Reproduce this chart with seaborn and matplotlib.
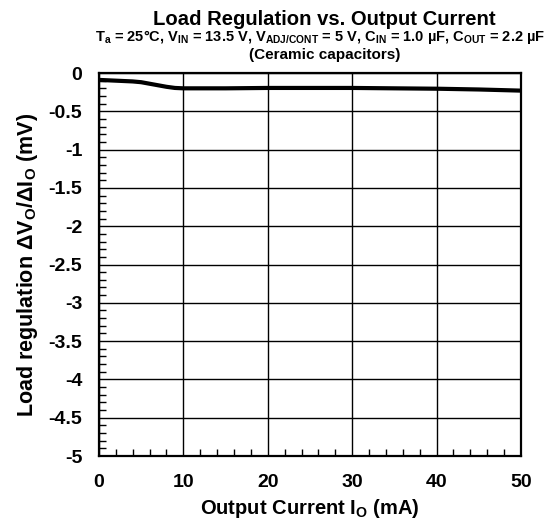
import matplotlib
matplotlib.use("Agg")
import matplotlib.pyplot as plt
from matplotlib.ticker import MultipleLocator, FixedLocator
import seaborn as sns
import pandas as pd

# Load regulation curve (mV) against output current (mA)
current_ma = [0, 2, 4, 5, 6, 7, 8, 9, 10, 15, 20, 25, 30, 35, 40, 45, 50]
regulation_mv = [-0.09, -0.10, -0.11, -0.12, -0.14, -0.16, -0.18, -0.195, -0.20,
                 -0.20, -0.195, -0.195, -0.195, -0.20, -0.205, -0.215, -0.23]

x_ticks = [0, 10, 20, 30, 40, 50]
y_ticks = [0, -0.5, -1, -1.5, -2, -2.5, -3, -3.5, -4, -4.5, -5]
y_tick_labels = ["0", "-0.5", "-1", "-1.5", "-2", "-2.5", "-3", "-3.5", "-4", "-4.5", "-5"]

sns.set_theme(style="white")
plt.rcParams["font.family"] = ["Liberation Sans", "DejaVu Sans"]
plt.rcParams["font.weight"] = "bold"
plt.rcParams["mathtext.fontset"] = "custom"
plt.rcParams["mathtext.rm"] = "Liberation Sans:bold"
plt.rcParams["mathtext.it"] = "Liberation Sans:bold"
plt.rcParams["mathtext.bf"] = "Liberation Sans:bold"
plt.rcParams["mathtext.default"] = "rm"

df = pd.DataFrame({"current": current_ma, "regulation": regulation_mv})

fig = plt.figure(figsize=(5.52, 5.23), dpi=100)
ax = fig.add_axes([0.1793, 0.1281, 0.7645, 0.7323])

sns.lineplot(data=df, x="current", y="regulation", ax=ax, color="black",
             linewidth=3.0, zorder=3)

ax.set_xlim(0, 50)
ax.set_ylim(-5, 0)
ax.xaxis.set_major_locator(FixedLocator(x_ticks))
ax.yaxis.set_major_locator(FixedLocator(y_ticks))
ax.set_yticklabels(y_tick_labels)
ax.xaxis.set_minor_locator(MultipleLocator(2))
ax.yaxis.set_minor_locator(MultipleLocator(0.1))

ax.grid(True, which="major", color="black", linewidth=1.0)
ax.set_axisbelow(True)
for s in ax.spines.values():
    s.set_color("black")
    s.set_linewidth(1.6)

ax.tick_params(axis="both", which="major", direction="in", length=0,
               labelsize=14, colors="black")
ax.tick_params(axis="x", which="major", pad=13)
ax.tick_params(axis="y", which="major", pad=12)
ax.tick_params(axis="both", which="minor", direction="in", length=5,
               width=1.0, color="black")
ax.tick_params(axis="x", which="minor", bottom=True, top=False)
ax.tick_params(axis="y", which="minor", left=True, right=False)
for lbl in ax.get_xticklabels() + ax.get_yticklabels():
    lbl.set_fontweight("bold")

ax.set_xlabel("Output Current I$_O$ (mA)", fontsize=14.5, fontweight="bold",
              color="black", labelpad=4)
ax.set_ylabel("Load regulation ΔV$_O$/ΔI$_O$ (mV)", fontsize=15.5,
              fontweight="bold", color="black", labelpad=6)

fig.text(0.588, 0.963, "Load Regulation vs. Output Current", ha="center",
         va="center", fontsize=14.6, fontweight="bold", color="black")
fig.text(0.580, 0.929,
         "T$_a$ = 25°C, V$_{IN}$ = 13.5 V, V$_{ADJ/CONT}$ = 5 V, "
         "C$_{IN}$ = 1.0 µF, C$_{OUT}$ = 2.2 µF",
         ha="center", va="center", fontsize=10.5, fontweight="bold", color="black")
fig.text(0.589, 0.895, "(Ceramic capacitors)", ha="center", va="center",
         fontsize=11, fontweight="bold", color="black")

fig.savefig("out.png", dpi=100, facecolor="white")
